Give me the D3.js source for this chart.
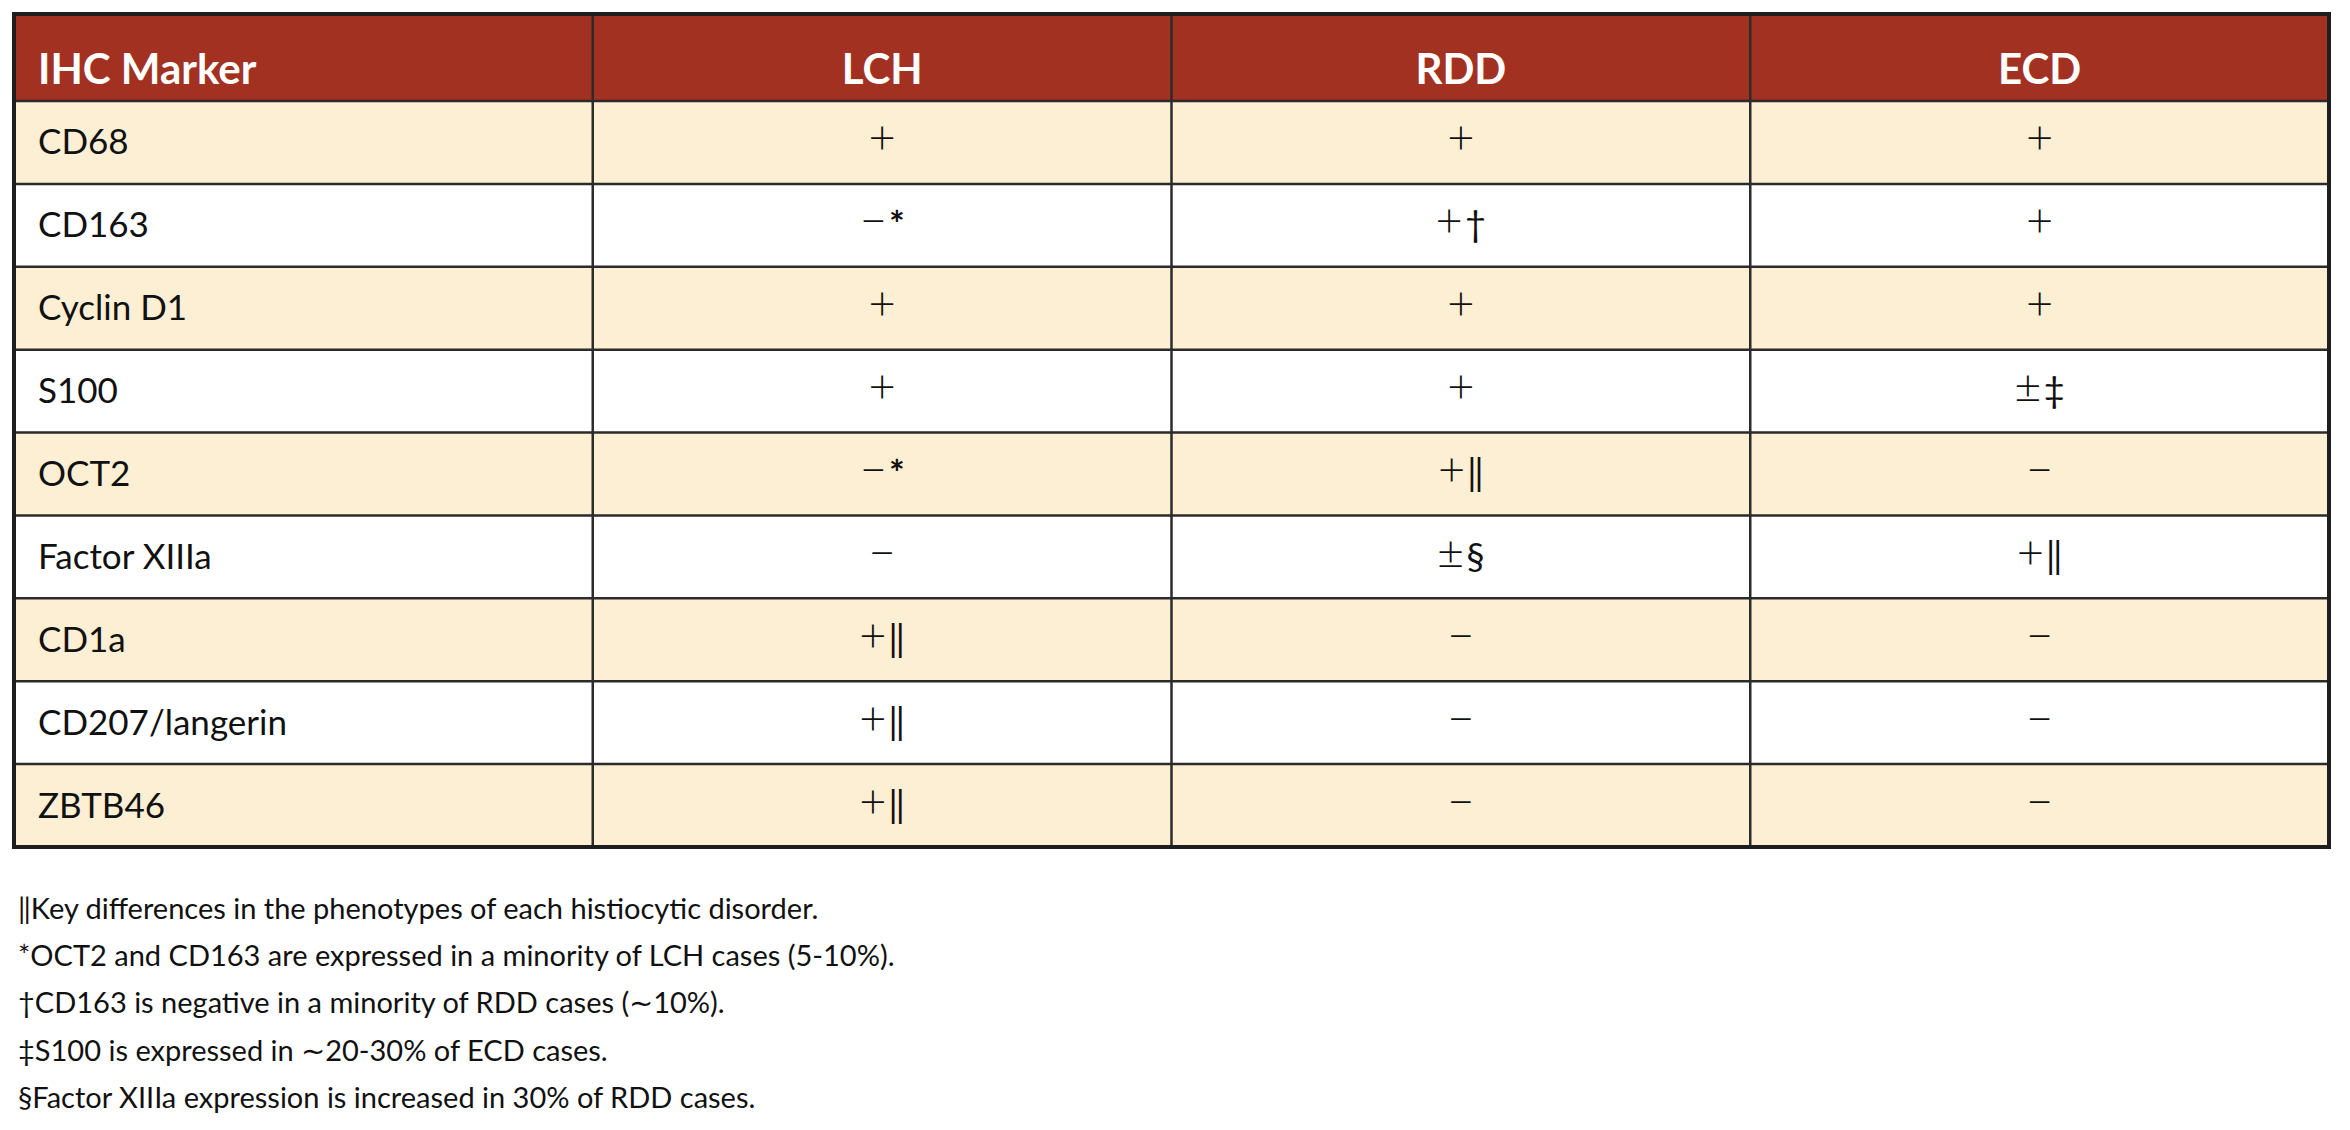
<!DOCTYPE html>
<html>
<head>
<meta charset="utf-8">
<script src="https://cdn.jsdelivr.net/npm/d3@7"></script>
<style>
  html, body { margin: 0; padding: 0; background: #fff; }
  svg { display: block; }
</style>
</head>
<body>
<svg id="chart"></svg>
<script>
const columns = ["IHC Marker", "LCH", "RDD", "ECD"];
const markers = ["CD68", "CD163", "Cyclin D1", "S100", "OCT2", "Factor XIIIa", "CD1a", "CD207/langerin", "ZBTB46"];
const lch = ["+", "\u2212*", "+", "+", "\u2212*", "\u2212", "+\u2016", "+\u2016", "+\u2016"];
const rdd = ["+", "+\u2020", "+", "+", "+\u2016", "\u00b1\u00a7", "\u2212", "\u2212", "\u2212"];
const ecd = ["+", "+", "+", "\u00b1\u2021", "\u2212", "+\u2016", "\u2212", "\u2212", "\u2212"];
const footnotes = [
  "\u2016Key differences in the phenotypes of each histiocytic disorder.",
  "*OCT2 and CD163 are expressed in a minority of LCH cases (5-10%).",
  "\u2020CD163 is negative in a minority of RDD cases (\u223c10%).",
  "\u2021S100 is expressed in \u223c20-30% of ECD cases.",
  "\u00a7Factor XIIIa expression is increased in 30% of RDD cases."
];

const width = 2350;
const height = 1130;
const tLeft = 14, tRight = 2329, tTop = 14, headerH = 87, tBottom = 847;
const font = "Lato, 'Open Sans', sans-serif";

const svg = d3.select("#chart").attr("width", width).attr("height", height);

// table rows built from the arrays
const rows = markers.map((m, i) => [m, lch[i], rdd[i], ecd[i]]);

const x = d3.scaleBand().domain(d3.range(columns.length)).range([tLeft, tRight]);
const y = d3.scaleBand().domain(d3.range(rows.length)).range([tTop + headerH, tBottom]);

// --- header ---
svg.append("rect")
  .attr("x", tLeft).attr("y", tTop)
  .attr("width", tRight - tLeft).attr("height", headerH)
  .attr("fill", "#a33122");

svg.append("g")
  .selectAll("text")
  .data(columns)
  .join("text")
  .attr("x", (d, i) => i === 0 ? tLeft + 24 : x(i) + x.bandwidth() / 2)
  .attr("y", tTop + 70)
  .attr("text-anchor", (d, i) => i === 0 ? "start" : "middle")
  .style("font-family", font)
  .style("font-weight", 700)
  .style("font-size", "42px")
  .style("fill", "#fff")
  .text((d) => d);

// --- body rows ---
const rowG = svg.append("g")
  .selectAll("g")
  .data(rows)
  .join("g")
  .attr("transform", (d, i) => `translate(0,${y(i)})`);

rowG.append("rect")
  .attr("x", tLeft).attr("width", tRight - tLeft)
  .attr("height", y.bandwidth())
  .attr("fill", (d, i) => i % 2 === 0 ? "#fcefd4" : "#ffffff");

const cells = rowG.selectAll("text")
  .data((d) => d)
  .join("text")
  .attr("x", (d, i) => i === 0 ? tLeft + 24 : x(i) + x.bandwidth() / 2)
  .attr("y", y.bandwidth() / 2 + 12)
  .attr("text-anchor", (d, i) => i === 0 ? "start" : "middle")
  .style("font-family", font)
  .style("font-size", "35px")
  .style("fill", "#111");

// marker names as plain text
cells.filter((d, i) => i === 0).text((d) => d);

// +, − and ± drawn larger and thinner, footnote marks at body size
const valueCells = cells.filter((d, i) => i > 0);
valueCells.append("tspan")
  .style("font-size", "47px")
  .style("font-weight", 300)
  .text((d) => d[0]);
valueCells.append("tspan")
  .attr("dx", 2)
  .style("font-size", "37px")
  .style("font-weight", (d) => d.slice(1) === "*" ? 700 : 400)
  .text((d) => d.slice(1));

// --- grid lines ---
const grid = svg.append("g").attr("stroke", "#2b2b2b").attr("fill", "none");

grid.selectAll("line.h")
  .data(d3.range(rows.length))
  .join("line")
  .attr("class", "h")
  .attr("x1", tLeft).attr("x2", tRight)
  .attr("y1", (i) => y(i)).attr("y2", (i) => y(i))
  .attr("stroke-width", 2.5);

grid.selectAll("line.v")
  .data(d3.range(1, columns.length))
  .join("line")
  .attr("class", "v")
  .attr("x1", (i) => x(i)).attr("x2", (i) => x(i))
  .attr("y1", tTop).attr("y2", tBottom)
  .attr("stroke-width", 2.5);

grid.append("rect")
  .attr("x", tLeft).attr("y", tTop)
  .attr("width", tRight - tLeft).attr("height", tBottom - tTop)
  .attr("stroke", "#1e1e1e")
  .attr("stroke-width", 4);

// --- footnotes ---
svg.append("g")
  .selectAll("text")
  .data(footnotes)
  .join("text")
  .attr("x", 18)
  .attr("y", (d, i) => 919 + i * 47.2)
  .style("font-family", font)
  .style("font-size", "29px")
  .style("fill", "#111")
  .text((d) => d);
</script>
</body>
</html>
